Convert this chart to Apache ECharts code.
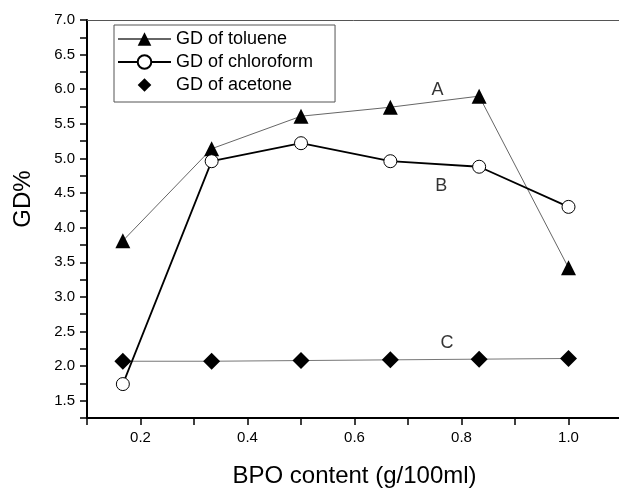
<!DOCTYPE html>
<html>
<head>
<meta charset="utf-8">
<title>GD vs BPO content</title>
<script src="https://cdn.jsdelivr.net/npm/echarts@6/dist/echarts.min.js"></script>
<style>
  html, body { margin: 0; padding: 0; background: #fff; }
  #chart { width: 619px; height: 489px; }
</style>
</head>
<body>
<div id="chart"></div>
<script>
// BPO content (g/100ml)
const bpo = [0.167, 0.333, 0.5, 0.667, 0.833, 1.0];
// GD% per solvent
const toluene = [3.81, 5.14, 5.61, 5.74, 5.90, 3.42];
const chloroform = [1.74, 4.96, 5.22, 4.96, 4.88, 4.30];
const acetone = [2.07, 2.07, 2.08, 2.09, 2.10, 2.11];
const seriesNames = ['GD of toluene', 'GD of chloroform', 'GD of acetone'];
// curve tags A / B / C
const tagText = ['A', 'B', 'C'];
const tagX = [0.755, 0.762, 0.773];
const tagY = [5.99, 4.60, 2.33];

const font = 'Liberation Sans, Arial, sans-serif';
const pair = (xs, ys) => xs.map((x, i) => [x, ys[i]]);

const chart = echarts.init(document.getElementById('chart'));

chart.setOption({
    animation: false,
    backgroundColor: '#fff',
    // plot runs past the right edge of the picture (x max 1.1 is cut off)
    grid: { left: 87, top: 20, width: 535, bottom: 71, outerBoundsMode: 'none' },
    legend: {
        orient: 'vertical',
        left: 114,
        top: 25,
        data: [
            { name: seriesNames[0] },
            { name: seriesNames[1] },
            { name: seriesNames[2], lineStyle: { opacity: 0 } },
        ],
        itemWidth: 53,
        itemHeight: 17,
        itemGap: 5,
        padding: [5, 22, 8, 3],
        borderColor: '#555',
        borderWidth: 1,
        textStyle: { fontFamily: font, fontSize: 18, color: '#000' },
    },
    xAxis: [
        {
            type: 'value',
            min: 0.1,
            max: 1.1,
            interval: 0.1,
            name: 'BPO content (g/100ml)',
            nameLocation: 'middle',
            nameGap: 46,
            nameTextStyle: { fontFamily: font, fontSize: 24, color: '#000' },
            axisLine: { show: true, lineStyle: { color: '#000', width: 2 } },
            axisTick: { show: true, length: 7, lineStyle: { color: '#000', width: 1.5 } },
            axisLabel: {
                fontFamily: font,
                fontSize: 15,
                color: '#000',
                margin: 12,
                formatter: (v) => {
                    const k = Math.round(v * 10);
                    return k % 2 === 0 && k <= 10 ? (k / 10).toFixed(1) : '';
                },
            },
            splitLine: { show: false },
        },
        {
            // top frame line
            type: 'value',
            position: 'top',
            min: 0.1,
            max: 1.1,
            axisLine: { show: true, lineStyle: { color: '#555', width: 1 } },
            axisTick: { show: false },
            axisLabel: { show: false },
            splitLine: { show: false },
        },
    ],
    yAxis: {
        type: 'value',
        min: 1.25,
        max: 7,
        interval: 0.25,
        name: 'GD%',
        nameLocation: 'middle',
        nameGap: 52,
        nameTextStyle: { fontFamily: font, fontSize: 24, color: '#000', padding: [0, 0, 0, 40] },
        axisLine: { show: true, lineStyle: { color: '#000', width: 2 } },
        axisTick: { show: true, length: 7, lineStyle: { color: '#000', width: 1.5 } },
        axisLabel: {
            fontFamily: font,
            fontSize: 15,
            color: '#000',
            margin: 12,
            formatter: (v) => (Math.round(v * 100) % 50 === 0 ? v.toFixed(1) : ''),
        },
        splitLine: { show: false },
    },
    series: [
        {
            name: seriesNames[0],
            type: 'line',
            data: pair(bpo, toluene),
            symbol: 'triangle',
            symbolSize: 15,
            itemStyle: { color: '#000' },
            lineStyle: { color: '#666', width: 1 },
            z: 3,
        },
        {
            name: seriesNames[1],
            type: 'line',
            data: pair(bpo, chloroform),
            symbol: 'circle',
            symbolSize: 13,
            itemStyle: { color: '#fff', borderColor: '#000', borderWidth: 1 },
            lineStyle: { color: '#000', width: 1.8 },
            z: 4,
        },
        {
            name: seriesNames[2],
            type: 'line',
            data: pair(bpo, acetone),
            symbol: 'diamond',
            symbolSize: 17,
            itemStyle: { color: '#000' },
            lineStyle: { color: '#777', width: 1 },
            z: 2,
        },
        {
            name: 'tags',
            type: 'scatter',
            data: tagText.map((t, i) => ({ value: [tagX[i], tagY[i]], name: t })),
            symbolSize: 0,
            silent: true,
            label: {
                show: true,
                position: 'inside',
                formatter: (p) => p.name,
                fontFamily: font,
                fontSize: 18,
                color: '#000',
            },
        },
    ],
});
</script>
</body>
</html>
